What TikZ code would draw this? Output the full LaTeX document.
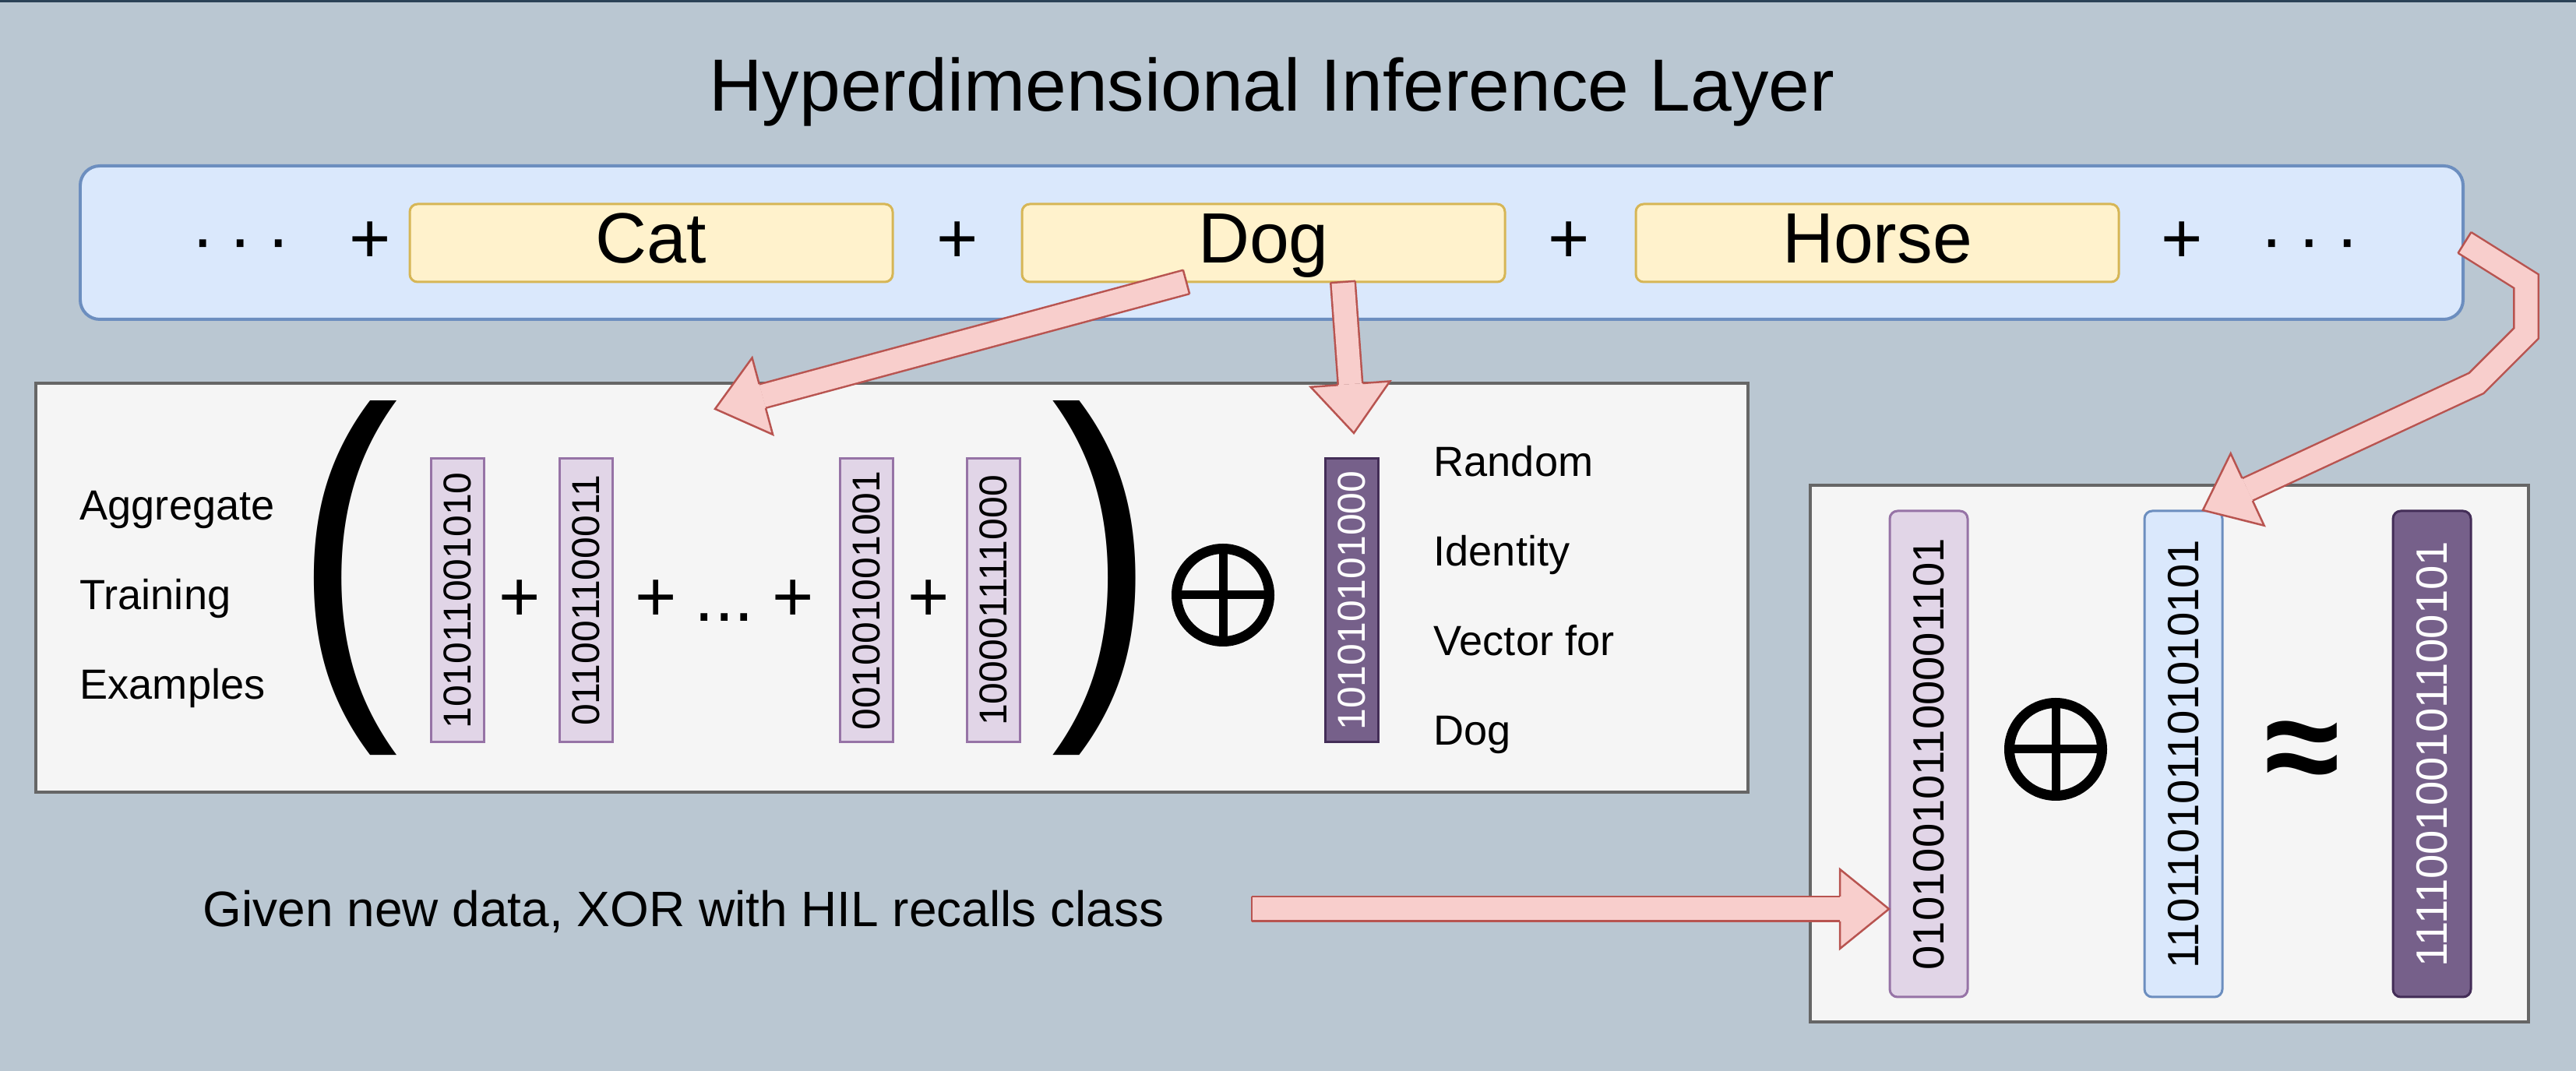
\documentclass[tikz,border=0pt]{standalone}
\usepackage{fontspec}
\setmainfont{Liberation Sans}
\usetikzlibrary{calc}

\definecolor{canvas}{HTML}{BAC7D2}
\definecolor{topline}{HTML}{2B4257}
\definecolor{hilfill}{HTML}{DAE8FC}
\definecolor{hildraw}{HTML}{6C8EBF}
\definecolor{yfill}{HTML}{FFF2CC}
\definecolor{ydraw}{HTML}{D6B656}
\definecolor{boxfill}{HTML}{F5F5F5}
\definecolor{boxdraw}{HTML}{666666}
\definecolor{pfill}{HTML}{E1D5E7}
\definecolor{pdraw}{HTML}{9673A6}
\definecolor{dpfill}{HTML}{76608A}
\definecolor{dpdraw}{HTML}{432D57}
\definecolor{afill}{HTML}{F8CECC}
\definecolor{adraw}{HTML}{B85450}

\begin{document}
\begin{tikzpicture}[
    font=\fontsize{15.4}{18}\selectfont,
    every node/.style={inner sep=0pt},
    bigtext/.style={font=\fontsize{26}{30}\selectfont},
    paren/.style={font=\fontsize{139}{140}\selectfont},
    classbox/.style={bigtext, draw=ydraw, fill=yfill, line width=0.03cm, rounded corners=0.1cm,
      minimum width=6.2cm, minimum height=1cm, text height=0.66cm, text depth=0.14cm},
    panel/.style={draw=boxdraw, fill=boxfill, line width=0.04cm},
    bits/.style={rotate=90, line width=0.03cm, minimum width=3.64cm, minimum height=0.68cm,
      font=\fontsize{14.2}{16}\selectfont},
    trainvec/.style={bits, fill=pfill, draw=pdraw},
    idvec/.style={bits, fill=dpfill, draw=dpdraw, text=white},
    querybits/.style={rotate=90, line width=0.03cm, rounded corners=0.1cm,
      minimum width=6.24cm, minimum height=1cm, font=\fontsize{16}{18}\selectfont},
    xorsign/.style={circle, draw, line width=0.13cm, minimum size=1.19cm,
      path picture={\draw[line width=0.11cm]
        (path picture bounding box.north) -- (path picture bounding box.south)
        (path picture bounding box.west) -- (path picture bounding box.east);}},
    blockshaft/.style={draw=adraw, line width=0.025cm, double=afill, double distance=0.29cm, line join=miter},
    blockhead/.style={fill=afill, draw=adraw, line width=0.025cm, line join=miter}
  ]
    % ================= Parameters =================
    \def\W{33.07}     % Canvas width
    \def\H{13.75}     % Canvas height
    \def\sw{0.16cm}   % Half width of a block arrow shaft
    \def\hw{0.51cm}   % Half width of a block arrow head
    \def\hl{0.63cm}   % Length of a block arrow head

    % Head and closed tail of a block arrow
    \def\fathead#1#2{\filldraw[blockhead] ($(#1)!\sw!90:(#2)$) -- ($(#1)!\hw!90:(#2)$) -- (#2)
      -- ($(#1)!\hw!-90:(#2)$) -- ($(#1)!\sw!-90:(#2)$);}
    \def\fattail#1#2{\draw[adraw, line width=0.025cm] ($(#1)!\sw!90:(#2)$) -- ($(#1)!\sw!-90:(#2)$);}

    % ================= Canvas =================
    \path[use as bounding box] (0,0) rectangle (\W,-\H);
    \fill[canvas] (0,0) rectangle (\W,-\H);
    \draw[topline, line width=0.03cm] (0,-0.015) -- (\W,-0.015);

    \node[font=\fontsize{27}{32}\selectfont, anchor=base] (title) at (16.33,-1.43) {Hyperdimensional Inference Layer};

    % ================= Inference Layer =================
    \node[draw=hildraw, fill=hilfill, line width=0.04cm, rounded corners=0.25cm,
      minimum width=30.59cm, minimum height=1.97cm] (hil) at (16.325,-3.115) {};

    \node[classbox] (cat) at (8.36,-3.12) {Cat};
    \node[classbox] (dog) at (16.22,-3.12) {Dog};
    \node[classbox] (horse) at (24.10,-3.12) {Horse};

    \node[bigtext, anchor=base] (dots_l) at (3.09,-3.38) {·\hspace{0.2em}·\hspace{0.2em}·};
    \node[bigtext, anchor=base] (plus_a) at (4.75,-3.38) {+};
    \node[bigtext, anchor=base] (plus_b) at (12.29,-3.38) {+};
    \node[bigtext, anchor=base] (plus_c) at (20.14,-3.38) {+};
    \node[bigtext, anchor=base] (plus_d) at (28.01,-3.38) {+};
    \node[bigtext, anchor=base] (dots_r) at (29.65,-3.38) {·\hspace{0.2em}·\hspace{0.2em}·};

    % ================= Training Panel =================
    \node[panel, minimum width=21.98cm, minimum height=5.25cm] (train) at (11.45,-7.545) {};

    \node[anchor=base west] (agg) at (1.02,-6.68) {Aggregate};
    \node[anchor=base west] (trn) at (1.02,-7.83) {Training};
    \node[anchor=base west] (exm) at (1.02,-8.98) {Examples};

    % Big brackets, narrowed to the reference's width
    \node[paren] (lpar) at (4.45,-7.42) {\scalebox{0.82}[1]{(}};
    \node[paren] (rpar) at (14.16,-7.42) {\scalebox{0.82}[1]{)}};

    \node[trainvec] (ex_1) at (5.875,-7.71) {101011001010};
    \node[bigtext, anchor=base] (sum_1) at (6.67,-7.98) {+};
    \node[trainvec] (ex_2) at (7.52,-7.71) {011001100011};
    \node[bigtext, anchor=base] (sum_2) at (8.42,-7.98) {+};
    \node[bigtext, anchor=base] (dots_m) at (9.30,-7.98) {...};
    \node[bigtext, anchor=base] (sum_3) at (10.18,-7.98) {+};
    \node[trainvec] (ex_3) at (11.125,-7.71) {001001001001};
    \node[bigtext, anchor=base] (sum_4) at (11.92,-7.98) {+};
    \node[trainvec] (ex_4) at (12.755,-7.71) {100001111000};

    \node[xorsign] (xor_l) at (15.70,-7.64) {};
    \node[idvec] (id_dog) at (17.355,-7.71) {101010101000};

    \node[anchor=base west] (rnd) at (18.40,-6.12) {Random};
    \node[anchor=base west] (ide) at (18.40,-7.27) {Identity};
    \node[anchor=base west] (vec) at (18.40,-8.42) {Vector for};
    \node[anchor=base west] (dgl) at (18.40,-9.57) {Dog};

    % ================= Query Panel =================
    \node[panel, minimum width=9.22cm, minimum height=6.89cm] (query) at (27.85,-9.675) {};

    \node[querybits, fill=pfill, draw=pdraw] (q_data) at (24.76,-9.68) {010100101100001101};
    \node[xorsign] (xor_r) at (26.39,-9.62) {};
    \node[querybits, fill=hilfill, draw=hildraw] (q_hil) at (28.03,-9.68) {110110101101010101};
    \node[font=\bfseries\fontsize{50}{60}\selectfont] (approx) at (29.56,-9.72) {≈};
    \node[querybits, fill=dpfill, draw=dpdraw, text=white] (q_class) at (31.22,-9.68) {111100100101100101};

    \node[font=\fontsize{18.2}{22}\selectfont, anchor=base west] (recall) at (2.60,-11.90)
      {Given new data, XOR with HIL recalls class};

    % ================= Block Arrows =================
    % Dog -> training examples
    \coordinate (a_tail) at (15.23,-3.62);
    \coordinate (a_tip) at (9.18,-5.25);
    \coordinate (a_base) at ($(a_tip)!\hl!(a_tail)$);
    \draw[blockshaft] (a_tail) -- (a_base);
    \fattail{a_tail}{a_base}
    \fathead{a_base}{a_tip}

    % Dog -> identity vector
    \coordinate (b_tail) at (17.24,-3.62);
    \coordinate (b_tip) at (17.38,-5.56);
    \coordinate (b_base) at ($(b_tip)!\hl!(b_tail)$);
    \draw[blockshaft] (b_tail) -- (b_base);
    \fattail{b_tail}{b_base}
    \fathead{b_base}{b_tip}

    % Inference layer -> stored vector
    \coordinate (c_tail) at (hil.east);
    \coordinate (c_1) at (32.43,-3.61);
    \coordinate (c_2) at (32.43,-4.28);
    \coordinate (c_3) at (31.79,-4.92);
    \coordinate (c_tip) at (28.28,-6.55);
    \coordinate (c_base) at ($(c_tip)!\hl!(c_3)$);
    \draw[blockshaft] (c_tail) -- (c_1) -- (c_2) -- (c_3) -- (c_base);
    \fattail{c_tail}{c_1}
    \fathead{c_base}{c_tip}

    % New data -> query vector
    \coordinate (d_tail) at (16.07,-11.67);
    \coordinate (d_tip) at (24.25,-11.67);
    \coordinate (d_base) at ($(d_tip)!\hl!(d_tail)$);
    \draw[blockshaft] (d_tail) -- (d_base);
    \fattail{d_tail}{d_base}
    \fathead{d_base}{d_tip}

\end{tikzpicture}
\end{document}
